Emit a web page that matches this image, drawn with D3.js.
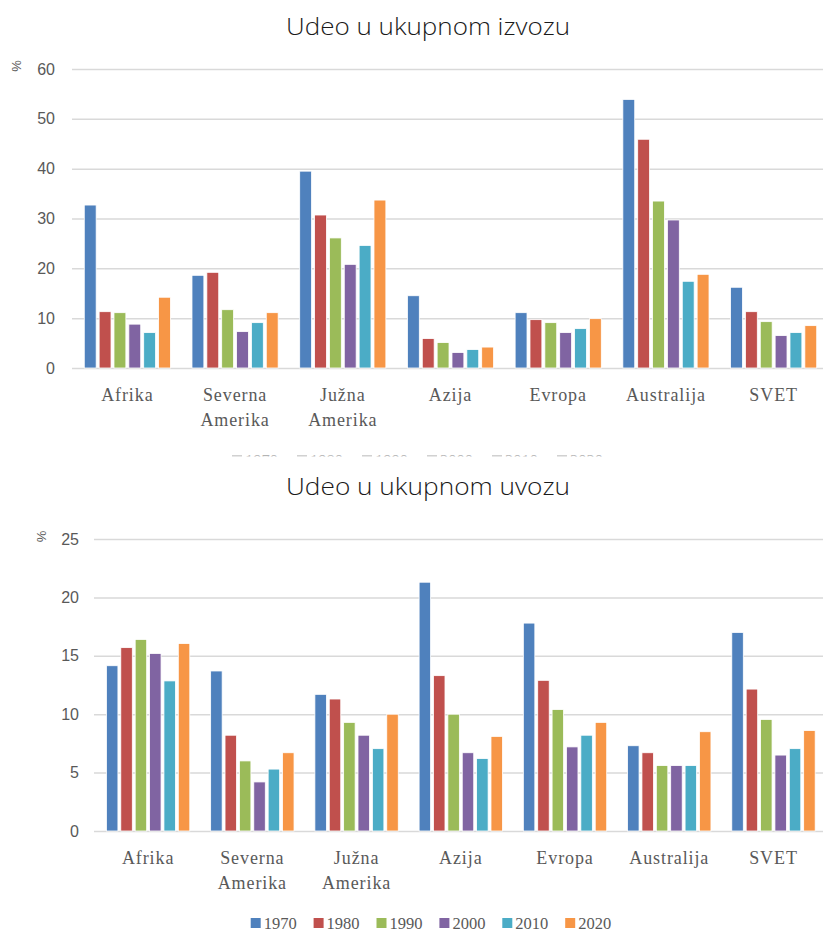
<!DOCTYPE html>
<html><head><meta charset="utf-8">
<script src="https://cdn.jsdelivr.net/npm/d3@7"></script>
<style>body{margin:0;background:#fff}svg{display:block}</style>
</head><body>
<script>
const categories = ["Afrika","Severna Amerika","Južna Amerika","Azija","Evropa","Australija","SVET"];
const years = ["1970","1980","1990","2000","2010","2020"];
const colors = ["#4F81BD","#C0504D","#9BBB59","#8064A2","#4BACC6","#F79646"];
const exportTitle = "Udeo u ukupnom izvozu";
const importTitle = "Udeo u ukupnom uvozu";
const unitLabel = "%";
const exportTicks = [0,10,20,30,40,50,60];
const importTicks = [0,5,10,15,20,25];

// Udeo u ukupnom izvozu (%), one array per year, in category order
const export1970 = [32.7, 18.6, 39.5, 14.5, 11.1, 53.9, 16.2];
const export1980 = [11.3, 19.2, 30.7, 5.9, 9.7, 45.9, 11.3];
const export1990 = [11.1, 11.7, 26.1, 5.1, 9.1, 33.5, 9.3];
const export2000 = [8.8, 7.3, 20.8, 3.1, 7.1, 29.7, 6.5];
const export2010 = [7.1, 9.1, 24.6, 3.7, 7.9, 17.4, 7.1];
const export2020 = [14.2, 11.1, 33.7, 4.2, 9.9, 18.8, 8.5];

// Udeo u ukupnom uvozu (%)
const import1970 = [14.15, 13.7, 11.7, 21.3, 17.8, 7.3, 17.0];
const import1980 = [15.7, 8.2, 11.3, 13.3, 12.9, 6.7, 12.15];
const import1990 = [16.4, 6.0, 9.3, 10.0, 10.4, 5.6, 9.55];
const import2000 = [15.2, 4.2, 8.2, 6.7, 7.2, 5.6, 6.5];
const import2010 = [12.85, 5.3, 7.05, 6.2, 8.2, 5.6, 7.05];
const import2020 = [16.05, 6.7, 10.0, 8.1, 9.3, 8.5, 8.6];

const exportSeries = [export1970, export1980, export1990, export2000, export2010, export2020];
const importSeries = [import1970, import1980, import1990, import2000, import2010, import2020];

const W = 823, H = 931;
const svg = d3.select("body").append("svg").attr("width", W).attr("height", H);
const defs = svg.append("defs");

const color = d3.scaleOrdinal().domain(years).range(colors);
const GRAY = "#595959";

function drawChart(cfg) {
  const g = svg.append("g");
  g.append("text")
    .attr("x", cfg.titleX).attr("y", cfg.titleY)
    .attr("text-anchor", "middle")
    .attr("font-family", "'Open Sans', sans-serif")
    .attr("font-weight", 300)
    .attr("font-size", 24)
    .attr("fill", "#1a1a1a")
    .attr("textLength", cfg.titleLen)
    .attr("lengthAdjust", "spacingAndGlyphs")
    .text(cfg.title);

  const y = d3.scaleLinear().domain([0, d3.max(cfg.ticks)]).range([cfg.y0, cfg.yTop]);
  const x0 = d3.scaleBand().domain(categories).range([cfg.xLeft, cfg.xRight]).paddingInner(0.2).paddingOuter(0.1);
  const x1 = d3.scaleBand().domain(years).range([0, x0.bandwidth()]).paddingInner(0.2);

  const yAxis = d3.axisLeft(y).tickValues(cfg.ticks).tickSizeInner(-(W - cfg.gridLeft)).tickSizeOuter(0).tickPadding(cfg.tickPad);
  const ya = g.append("g").attr("transform", `translate(${cfg.gridLeft},0)`).call(yAxis);
  ya.select(".domain").remove();
  ya.selectAll(".tick line").attr("stroke", "#d9d9d9").attr("stroke-width", 1.5);
  ya.selectAll(".tick text").attr("fill", GRAY).attr("font-family", "'Liberation Sans', sans-serif").attr("font-size", 16);

  g.append("text")
    .attr("transform", `translate(${cfg.unitX},${cfg.unitY}) rotate(-90)`)
    .attr("text-anchor", "middle").attr("dominant-baseline", "central")
    .attr("font-family", "'Liberation Sans', sans-serif").attr("font-size", 13)
    .attr("fill", GRAY).text(unitLabel);

  const groups = g.append("g").selectAll("g").data(categories).join("g")
    .attr("transform", d => `translate(${x0(d)},0)`);
  groups.selectAll("rect")
    .data((c, ci) => years.map((yr, yi) => ({ yr, v: cfg.series[yi][ci] })))
    .join("rect")
    .attr("x", d => x1(d.yr))
    .attr("width", x1.bandwidth())
    .attr("y", d => y(d.v))
    .attr("height", d => y(0) - y(d.v))
    .attr("fill", d => color(d.yr))
    .attr("stroke", "#fff").attr("stroke-width", 0.8);

  const xAxis = d3.axisBottom(x0).tickSize(0).tickPadding(0);
  const xa = g.append("g").attr("transform", `translate(0,${cfg.labelY})`).call(xAxis);
  xa.select(".domain").remove();
  xa.selectAll(".tick text").each(function(d) {
    const t = d3.select(this);
    t.text(null).attr("y", 0).attr("dy", null)
      .attr("fill", GRAY).attr("font-family", "'Liberation Serif', serif")
      .attr("font-size", 18).attr("letter-spacing", 0.9);
    d.split(" ").forEach((w, i) => {
      t.append("tspan").attr("x", 0).attr("y", i * 25).text(w);
    });
  });

  const lg = g.append("g");
  if (cfg.legendClip) {
    const id = "clip" + cfg.legendY;
    defs.append("clipPath").attr("id", id).append("rect")
      .attr("x", 0).attr("y", cfg.legendClip[0]).attr("width", W).attr("height", cfg.legendClip[1] - cfg.legendClip[0]);
    lg.attr("clip-path", `url(#${id})`).attr("opacity", 0.45);
  }
  const item = lg.selectAll("g").data(years).join("g")
    .attr("transform", (d, i) => `translate(${cfg.legendX + i * cfg.legendStep},${cfg.legendY})`);
  item.append("rect").attr("x", 0).attr("y", -10).attr("width", 10).attr("height", 10)
    .attr("fill", d => cfg.legendClip ? "#9a9a9a" : color(d));
  item.append("text").attr("x", 13).attr("y", 0.5)
    .attr("font-family", "'Liberation Serif', serif").attr("font-size", 16.5)
    .attr("fill", GRAY).text(d => d);
}

drawChart({
  title: exportTitle, titleX: 428, titleY: 35, titleLen: 284,
  ticks: exportTicks, series: exportSeries,
  y0: 368, yTop: 69, xLeft: 73.5, xRight: 827.5, gridLeft: 72, tickPad: 17,
  unitX: 16, unitY: 66, labelY: 401,
  legendX: 232, legendStep: 65, legendY: 465, legendClip: [452.5, 456.5]
});

drawChart({
  title: importTitle, titleX: 428, titleY: 495, titleLen: 284,
  ticks: importTicks, series: importSeries,
  y0: 831, yTop: 539, xLeft: 96, xRight: 825.6, gridLeft: 94, tickPad: 15,
  unitX: 41.5, unitY: 536.5, labelY: 864,
  legendX: 250.7, legendStep: 62.9, legendY: 928
});
</script>
</body></html>
